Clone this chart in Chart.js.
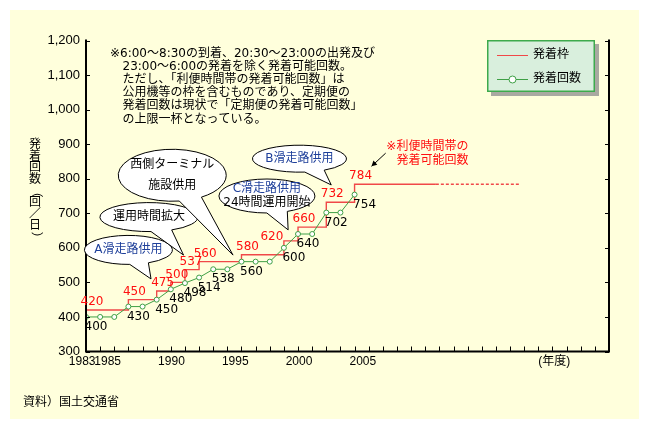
<!DOCTYPE html>
<html>
<head>
<meta charset="utf-8">
<script src="https://cdn.jsdelivr.net/npm/chart.js@4"></script>
<style>
  html, body { margin: 0; padding: 0; background: #fff; }
  #wrap { width: 649px; height: 431px; }
</style>
</head>
<body>
<div id="wrap"><canvas id="chart" width="649" height="431"></canvas></div>
<script>
/* ===== data ===== */
const YEARS = [1983, 1984, 1985, 1986, 1987, 1988, 1989, 1990, 1991, 1992,
  1993, 1994, 1995, 1996, 1997, 1998, 1999, 2000, 2001, 2002];
const COUNT_VALUES = [400, 400, 400, 430, 430, 450, 480, 498, 514, 538,
  538, 560, 560, 560, 600, 640, 640, 702, 702, 754];

// 発着枠: step changes
const FRAME_YEARS = [1983, 1986, 1988, 1989, 1990, 1991, 1994, 1997, 1998, 2000, 2002];
const FRAME_VALUES = [420, 450, 475, 500, 537, 560, 580, 620, 660, 732, 784];
const FRAME_SOLID_END = 2007.75;
const FRAME_DOTTED_END = 2013.75;

const X_LABEL_YEARS = [1983, 1985, 1990, 1995, 2000, 2005];
const X_UNIT_AT = 2020;
const X_UNIT_LABEL = '(年度)';
const Y_MIN = 300, Y_MAX = 1200, Y_STEP = 100;

const Y_TITLE = '発着回数（回／日）';
const NOTE_LINES = [
  '※6:00～8:30の到着、20:30～23:00の出発及び',
  '23:00～6:00の発着を除く発着可能回数。',
  'ただし、「利便時間帯の発着可能回数」は',
  '公用機等の枠を含むものであり、定期便の',
  '発着回数は現状で「定期便の発着可能回数」',
  'の上限一杯となっている。'
];
const SOURCE_TEXT = '資料）国土交通省';

/* ===== colours & fonts ===== */
const PANEL_BG = '#FFFFDC';
const RED_LINE = '#F04848';
const RED_TEXT = '#FF1010';
const GREEN = '#3FA046';
const BLUE_TEXT = '#1E3F9A';
const NUM_FONT = '12px "DejaVu Sans", "Noto Sans CJK JP", sans-serif';
const JP_FONT = '12px "DejaVu Sans", "Noto Sans CJK JP", sans-serif';

// red labels that sit left of their step (a callout tail is in the way)
const FRAME_LABEL_LEFT = [1997];

// callouts, anchored in data units
const CALLOUTS = [
  { lines: [['A滑走路供用', BLUE_TEXT]], at: [1986.0, 594], tip: [1987.6, 510], rx: 44, ry: 14.5 },
  { lines: [['運用時間拡大', '#000']], at: [1987.45, 689], tip: [1989.9, 579], rx: 49, ry: 14.5 },
  { lines: [['西側ターミナル', '#000'], ['施設供用', '#000']], at: [1989.1, 810], tip: [1993.4, 579], rx: 54, ry: 26, gap: 21 },
  { lines: [['C滑走路供用', BLUE_TEXT], ['24時間運用開始', '#000']], at: [1995.8, 750], tip: [1997.3, 652], rx: 48, ry: 17, gap: 13.5 },
  { lines: [['B滑走路供用', BLUE_TEXT]], at: [1998.1, 858], tip: [2000.35, 782], rx: 47, ry: 13.5 }
];
const RED_NOTE = {
  lines: ['※利便時間帯の', '発着可能回数'],
  at: [2004.25, 893],
  arrowFrom: [2004.2, 874],
  arrowTo: [2003.2, 836]
};

function px(chart, pt) {
  return [chart.scales.x.getPixelForValue(pt[0]), chart.scales.y.getPixelForValue(pt[1])];
}

function drawFrame(ctx, chart) {
  const a = chart.chartArea;
  const ys = chart.scales.y, xs = chart.scales.x;
  ctx.strokeStyle = '#000';
  ctx.lineWidth = 2;
  ctx.beginPath();
  ctx.moveTo(a.left, a.top - 1);
  ctx.lineTo(a.left, a.bottom);
  ctx.lineTo(a.right, a.bottom);
  ctx.lineTo(a.right, a.top - 1);
  ctx.stroke();
  ctx.lineWidth = 1;
  ctx.beginPath();
  ys.ticks.forEach(t => {
    const y = Math.round(ys.getPixelForValue(t.value)) + 0.5;
    ctx.moveTo(a.left, y); ctx.lineTo(a.left + 4, y);
    ctx.moveTo(a.right - 4, y); ctx.lineTo(a.right, y);
  });
  for (let yr = Math.ceil(xs.min); yr <= xs.max; yr++) {
    const x = Math.round(xs.getPixelForValue(yr)) + 0.5;
    ctx.moveTo(x, a.bottom); ctx.lineTo(x, a.bottom - 5);
  }
  ctx.stroke();
}

function drawValueLabels(ctx, chart) {
  ctx.font = NUM_FONT;
  ctx.textAlign = 'center';
  ctx.textBaseline = 'middle';
  const frame = chart.getDatasetMeta(1).data;
  ctx.fillStyle = RED_TEXT;
  FRAME_VALUES.forEach((v, i) => {
    const p = frame[i];
    if (FRAME_LABEL_LEFT.includes(FRAME_YEARS[i])) {
      ctx.fillText(String(v), p.x - 12, p.y - 4);
    } else {
      ctx.fillText(String(v), p.x + 6, p.y - 8);
    }
  });
  const counts = chart.getDatasetMeta(0).data;
  ctx.fillStyle = '#000';
  COUNT_VALUES.forEach((v, i) => {
    if (i > 0 && v === COUNT_VALUES[i - 1]) return;
    const p = counts[i];
    ctx.fillText(String(v), p.x + 10, p.y + 10);
  });
}

function drawCallout(ctx, chart, c) {
  const [cx, cy] = px(chart, c.at);
  const [tx, ty] = px(chart, c.tip);
  const ang = Math.atan2((ty - cy) / c.ry, (tx - cx) / c.rx);
  const spread = 0.22;
  ctx.beginPath();
  ctx.ellipse(cx, cy, c.rx, c.ry, 0, ang + spread, ang - spread + Math.PI * 2);
  ctx.lineTo(tx, ty);
  ctx.closePath();
  ctx.fillStyle = '#fff';
  ctx.fill();
  ctx.strokeStyle = '#000';
  ctx.lineWidth = 1;
  ctx.stroke();
  ctx.font = JP_FONT;
  ctx.textAlign = 'center';
  ctx.textBaseline = 'middle';
  const n = c.lines.length, gap = c.gap || 13.5;
  c.lines.forEach(([t, col], k) => {
    ctx.fillStyle = col;
    ctx.fillText(t, cx, cy + (k - (n - 1) / 2) * gap);
  });
}

function drawRedNote(ctx, chart) {
  const [x, y] = px(chart, RED_NOTE.at);
  ctx.font = JP_FONT;
  ctx.textAlign = 'left';
  ctx.textBaseline = 'middle';
  ctx.fillStyle = RED_TEXT;
  const indent = ctx.measureText('※').width;
  ctx.fillText(RED_NOTE.lines[0], x, y);
  ctx.fillText(RED_NOTE.lines[1], x + indent, y + 14);
  const [x1, y1] = px(chart, RED_NOTE.arrowFrom);
  const [x2, y2] = px(chart, RED_NOTE.arrowTo);
  ctx.strokeStyle = '#000';
  ctx.fillStyle = '#000';
  ctx.lineWidth = 1;
  ctx.beginPath(); ctx.moveTo(x1, y1); ctx.lineTo(x2, y2); ctx.stroke();
  const ang = Math.atan2(y2 - y1, x2 - x1), L = 6, W = 0.5;
  ctx.beginPath();
  ctx.moveTo(x2, y2);
  ctx.lineTo(x2 - L * Math.cos(ang - W), y2 - L * Math.sin(ang - W));
  ctx.lineTo(x2 - L * Math.cos(ang + W), y2 - L * Math.sin(ang + W));
  ctx.closePath();
  ctx.fill();
}

function drawLegend(ctx, chart) {
  const x = 487, y = 40, w = 108, h = 52;
  ctx.fillStyle = '#A9A9A1';
  ctx.fillRect(x + 4, y + 4, w, h);
  ctx.fillStyle = '#D9EFDD';
  ctx.fillRect(x, y, w, h);
  ctx.strokeStyle = '#3DAA4C';
  ctx.lineWidth = 1.5;
  ctx.strokeRect(x + 0.75, y + 0.75, w - 1.5, h - 1.5);
  const ds = chart.data.datasets;
  const items = [ds[1], ds[0]];
  ctx.font = JP_FONT;
  ctx.textAlign = 'left';
  ctx.textBaseline = 'middle';
  items.forEach((d, i) => {
    const ly = y + 15 + i * 24;
    ctx.strokeStyle = d.borderColor;
    ctx.lineWidth = 1;
    ctx.beginPath(); ctx.moveTo(x + 10, ly + 0.5); ctx.lineTo(x + 41, ly + 0.5); ctx.stroke();
    if (d.pointRadius) {
      ctx.beginPath();
      ctx.arc(x + 25.5, ly + 0.5, 3.5, 0, Math.PI * 2);
      ctx.fillStyle = '#fff'; ctx.fill(); ctx.stroke();
    }
    ctx.fillStyle = '#000';
    ctx.fillText(d.label, x + 46, ly);
  });
}

function drawTexts(ctx) {
  ctx.font = JP_FONT;
  ctx.fillStyle = '#000';
  ctx.textAlign = 'left';
  ctx.textBaseline = 'middle';
  NOTE_LINES.forEach((t, i) => ctx.fillText(t, i === 0 ? 110 : 122.5, 53.5 + i * 13.2));
  ctx.fillText(SOURCE_TEXT, 23, 403);
  // vertical y title
  ctx.textAlign = 'center';
  [...Y_TITLE].forEach((ch, i) => {
    const cy = 145 + i * 11.6;
    ctx.save();
    ctx.translate(35, cy);
    if (ch === '（' || ch === '）') ctx.rotate(Math.PI / 2);
    ctx.fillText(ch, 0, 0);
    ctx.restore();
  });
}

const decor = {
  id: 'decor',
  beforeDraw(chart) {
    const ctx = chart.ctx;
    ctx.save();
    ctx.fillStyle = '#fff';
    ctx.fillRect(0, 0, chart.width, chart.height);
    ctx.fillStyle = PANEL_BG;
    ctx.fillRect(10, 10, chart.width - 20, chart.height - 22);
    ctx.restore();
  },
  afterDatasetsDraw(chart) {
    const ctx = chart.ctx;
    ctx.save();
    drawFrame(ctx, chart);
    drawValueLabels(ctx, chart);
    CALLOUTS.forEach(c => drawCallout(ctx, chart, c));
    drawRedNote(ctx, chart);
    drawLegend(ctx, chart);
    drawTexts(ctx);
    ctx.restore();
  }
};

const lastFrame = FRAME_VALUES[FRAME_VALUES.length - 1];

new Chart(document.getElementById('chart'), {
  type: 'line',
  data: {
    datasets: [
      {
        label: '発着回数',
        data: YEARS.map((x, i) => ({ x, y: COUNT_VALUES[i] })),
        borderColor: GREEN,
        borderWidth: 1,
        pointRadius: 2.5,
        pointBackgroundColor: '#fff',
        pointBorderColor: GREEN,
        pointBorderWidth: 1,
        order: 1
      },
      {
        label: '発着枠',
        data: FRAME_YEARS.map((x, i) => ({ x, y: FRAME_VALUES[i] }))
          .concat([{ x: FRAME_SOLID_END, y: lastFrame }]),
        borderColor: RED_LINE,
        borderWidth: 1.4,
        stepped: 'before',
        pointRadius: 0,
        order: 2
      },
      {
        label: '発着枠（延長）',
        data: [{ x: FRAME_SOLID_END, y: lastFrame }, { x: FRAME_DOTTED_END, y: lastFrame }],
        borderColor: RED_LINE,
        borderWidth: 1.4,
        borderDash: [3, 2],
        pointRadius: 0,
        order: 3
      }
    ]
  },
  options: {
    responsive: false,
    animation: false,
    devicePixelRatio: 1,
    layout: { padding: { top: 40.5, right: 40, bottom: 0, left: 0 } },
    plugins: { legend: { display: false }, tooltip: { enabled: false } },
    scales: {
      x: { type: 'linear', display: false, min: 1983, max: 2020 },
      x2: {
        type: 'linear',
        position: 'bottom',
        min: 1983.3,
        max: 2024.3,
        grid: { display: false, drawTicks: false },
        border: { display: false },
        afterBuildTicks: s => { s.ticks = X_LABEL_YEARS.concat([X_UNIT_AT]).map(v => ({ value: v })); },
        afterFit: s => { s.height = 79.5; },
        ticks: {
          autoSkip: false,
          maxRotation: 0,
          padding: 3,
          color: '#000',
          font: { family: '"Liberation Sans", "Noto Sans CJK JP", sans-serif', size: 12 },
          callback: v => v === X_UNIT_AT ? X_UNIT_LABEL : String(v)
        }
      },
      y: {
        type: 'linear',
        min: Y_MIN,
        max: Y_MAX,
        grid: { display: false, drawTicks: false },
        border: { display: false },
        afterFit: s => { s.width = 86; },
        ticks: {
          stepSize: Y_STEP,
          padding: 6,
          color: '#000',
          font: { family: '"Liberation Sans", sans-serif', size: 13 },
          callback: v => v.toLocaleString('en-US')
        }
      }
    }
  },
  plugins: [decor]
});
</script>
</body>
</html>
